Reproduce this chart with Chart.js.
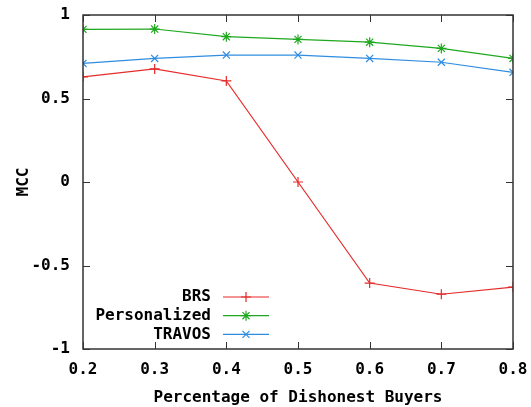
<!DOCTYPE html>
<html lang="en">
<head>
    <meta charset="UTF-8">
    <title>MCC vs Percentage of Dishonest Buyers</title>
    <script src="https://cdn.jsdelivr.net/npm/chart.js"></script>
    <style>
        body { margin: 0; padding: 0; background: #fff; }
        #wrap { width: 531px; height: 407px; }
    </style>
</head>
<body>
    <div id="wrap"><canvas id="chart-mcc"></canvas></div>

    <script>
        // datos
        const buyersPct = [0.2, 0.3, 0.4, 0.5, 0.6, 0.7, 0.8];
        const brs = [0.63, 0.677, 0.605, 0.0, -0.605, -0.672, -0.63];
        const personalized = [0.914, 0.916, 0.87, 0.854, 0.837, 0.80, 0.74];
        const travos = [0.71, 0.74, 0.76, 0.76, 0.74, 0.717, 0.657];
        const xTicks = [0.2, 0.3, 0.4, 0.5, 0.6, 0.7, 0.8];
        const yTicks = [-1, -0.5, 0, 0.5, 1];

        const fuente = "bold 16px 'DejaVu Sans Mono', monospace";
        const fuenteEjes = { family: 'DejaVu Sans Mono', size: 16, weight: 'bold' };

        function puntos(valores) {
            return buyersPct.map((x, i) => ({ x: x, y: valores[i] }));
        }

        // marco y marcas hacia dentro, al estilo gnuplot
        const marcoPlugin = {
            id: 'marco',
            afterDraw(chart) {
                const ctx = chart.ctx;
                const a = chart.chartArea;
                const sx = chart.scales.x, sy = chart.scales.y;
                ctx.save();
                ctx.strokeStyle = '#333';
                ctx.lineWidth = 1.5;
                ctx.strokeRect(a.left, a.top, a.right - a.left, a.bottom - a.top);
                ctx.lineWidth = 1;
                ctx.beginPath();
                xTicks.forEach(v => {
                    const px = Math.round(sx.getPixelForValue(v)) + 0.5;
                    ctx.moveTo(px, a.bottom); ctx.lineTo(px, a.bottom - 7);
                    ctx.moveTo(px, a.top); ctx.lineTo(px, a.top + 7);
                });
                yTicks.forEach(v => {
                    const py = Math.round(sy.getPixelForValue(v)) + 0.5;
                    ctx.moveTo(a.left, py); ctx.lineTo(a.left + 7, py);
                    ctx.moveTo(a.right, py); ctx.lineTo(a.right - 7, py);
                });
                ctx.stroke();
                ctx.restore();
            }
        };

        // leyenda dentro del area, texto a la derecha y muestra de linea
        const leyendaPlugin = {
            id: 'leyendaDentro',
            afterDatasetsDraw(chart) {
                const ctx = chart.ctx;
                ctx.save();
                ctx.font = fuente;
                ctx.textAlign = 'right';
                ctx.textBaseline = 'middle';
                chart.data.datasets.forEach((ds, i) => {
                    const y = 297 + i * 18.7;
                    ctx.fillStyle = '#000';
                    ctx.fillText(ds.label, 211, y);
                    ctx.strokeStyle = ds.borderColor;
                    ctx.lineWidth = 1.2;
                    ctx.beginPath();
                    ctx.moveTo(223, y); ctx.lineTo(269, y);
                    ctx.stroke();
                    Chart.helpers.drawPoint(ctx, {
                        pointStyle: ds.pointStyle, radius: ds.pointRadius,
                        borderWidth: 1.2, rotation: 0
                    }, 246, y);
                });
                ctx.restore();
            }
        };

        const ctxMcc = document.getElementById('chart-mcc').getContext('2d');

        let chartMcc = new Chart(ctxMcc, {
            type: 'line',
            data: {
                datasets: [
                    { label: 'BRS', data: puntos(brs), borderColor: '#e52b2b', backgroundColor: '#e52b2b', pointStyle: 'cross', pointRadius: 5, borderWidth: 1.2, pointBorderWidth: 1.2 },
                    { label: 'Personalized', data: puntos(personalized), borderColor: '#1fa81f', backgroundColor: '#1fa81f', pointStyle: 'star', pointRadius: 5, borderWidth: 1.2, pointBorderWidth: 1.2 },
                    { label: 'TRAVOS', data: puntos(travos), borderColor: '#2f8de0', backgroundColor: '#2f8de0', pointStyle: 'crossRot', pointRadius: 5, borderWidth: 1.2, pointBorderWidth: 1.2 }
                ]
            },
            options: {
                responsive: true,
                maintainAspectRatio: false,
                animation: false,
                layout: { padding: { top: 15, right: 18, left: 0, bottom: 0 } },
                plugins: { legend: { display: false }, tooltip: { enabled: false } },
                scales: {
                    x: {
                        type: 'linear', min: 0.2, max: 0.8,
                        afterBuildTicks: s => { s.ticks = xTicks.map(v => ({ value: v })); },
                        afterFit: s => { s.height = 58; },
                        grid: { display: false }, border: { display: false },
                        ticks: { color: '#000', font: fuenteEjes, padding: 3, maxRotation: 0, callback: v => v.toFixed(1) },
                        title: { display: true, text: 'Percentage of Dishonest Buyers', color: '#000', font: fuenteEjes, padding: { top: 4, bottom: 0 } }
                    },
                    y: {
                        min: -1, max: 1,
                        afterBuildTicks: s => { s.ticks = yTicks.map(v => ({ value: v })); },
                        afterFit: s => { s.width = 83; },
                        grid: { display: false }, border: { display: false },
                        ticks: { color: '#000', font: fuenteEjes, padding: 5, callback: v => String(v) },
                        title: { display: true, text: 'MCC', color: '#000', font: fuenteEjes, padding: { top: 14, bottom: 0 } }
                    }
                }
            },
            plugins: [marcoPlugin, leyendaPlugin]
        });
    </script>
</body>
</html>
